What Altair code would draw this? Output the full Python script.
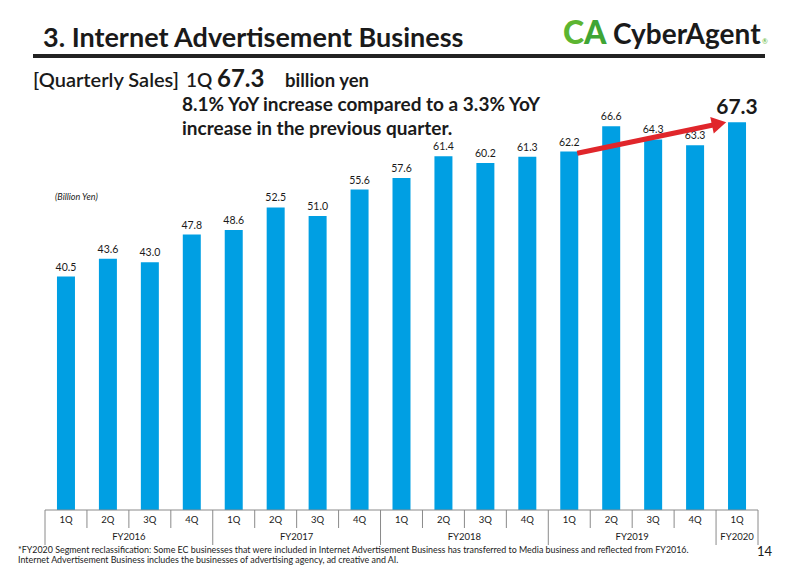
import altair as alt
import pandas as pd

# ---------------- data ----------------
fiscal_years = ["FY2016"] * 4 + ["FY2017"] * 4 + ["FY2018"] * 4 + ["FY2019"] * 4 + ["FY2020"]
quarters = ["1Q", "2Q", "3Q", "4Q"] * 4 + ["1Q"]
sales = [40.5, 43.6, 43.0, 47.8, 48.6, 52.5, 51.0, 55.6, 57.6, 61.4, 60.2, 61.3,
         62.2, 66.6, 64.3, 63.3, 67.3]

title_text = "3. Internet Advertisement Business"
footnotes = [
    "*FY2020 Segment reclassification: Some EC businesses that were included in Internet Advertisement Business has transferred to Media business and reflected from FY2016.",
    "Internet Advertisement Business includes the businesses of advertising agency, ad creative and AI.",
]

keys = [f"{f}|{q}" for f, q in zip(fiscal_years, quarters)]
df = pd.DataFrame({"key": keys, "fy": fiscal_years, "q": quarters, "sales": sales})
df["is_last"] = [i == len(keys) - 1 for i in range(len(keys))]

# ---------------- layout ----------------
L, T = 45, 106          # plot origin in page pixels
W, H = 713, 404
FONT = "Lato"
DARK = "#1a1a1a"
BLUE = "#009fe3"
RED = "#e0262b"

xscale = alt.Scale(domain=keys, paddingInner=0, paddingOuter=0)
yscale = alt.Scale(domain=[0, 70.1])
X = alt.X("key:N", scale=xscale, axis=None, sort=keys)
Y = alt.Y("sales:Q", scale=yscale, axis=None)

base = alt.Chart(df)

bars = base.mark_bar(size=18, color=BLUE).encode(x=X, y=Y)

vlabels = base.transform_filter("!datum.is_last").mark_text(
    dy=-6, fontSize=10.5, font=FONT, color=DARK, baseline="alphabetic"
).encode(x=X, y=Y, text=alt.Text("sales:Q", format=".1f"))

last_label = base.transform_filter("datum.is_last").mark_text(
    dy=-8, fontSize=21, fontWeight="bold", font=FONT, color=DARK, baseline="alphabetic"
).encode(x=X, y=Y, text=alt.Text("sales:Q", format=".1f"))

# arrow from 1Q FY2019 to 1Q FY2020
arrow_df = pd.DataFrame({"k1": ["FY2019|1Q"], "v1": [61.9], "k2": ["FY2019|4Q"], "v2": [66.8]})
arrow_line = alt.Chart(arrow_df).mark_rule(
    color=RED, strokeWidth=5, xOffset=8, x2Offset=18
).encode(
    x=alt.X("k1:N", scale=xscale, axis=None, sort=keys),
    x2="k2:N",
    y=alt.Y("v1:Q", scale=yscale, axis=None),
    y2="v2:Q",
)
head_df = pd.DataFrame({"k": ["FY2019|4Q"], "v": [67.03]})
arrow_head = alt.Chart(head_df).mark_point(
    shape="triangle-right", filled=True, opacity=1, color=RED, size=280, angle=348, xOffset=24
).encode(
    x=alt.X("k:N", scale=xscale, axis=None, sort=keys),
    y=alt.Y("v:Q", scale=yscale, axis=None),
)

# ---------------- category table below the bars ----------------
GREY = "#8a8a8a"
top_line = alt.Chart(pd.DataFrame({"a": [0]})).mark_rule(color=GREY, strokeWidth=1).encode(
    x=alt.value(0), x2=alt.value(W), y=alt.value(H)
)
q_sep = base.transform_filter("datum.q != '1Q'").mark_rule(color=GREY, strokeWidth=1).encode(
    x=alt.X("key:N", scale=xscale, axis=None, sort=keys, bandPosition=0),
    y=alt.value(H), y2=alt.value(H + 18),
)
fy_sep = base.transform_filter("datum.q == '1Q'").mark_rule(color=GREY, strokeWidth=1).encode(
    x=alt.X("key:N", scale=xscale, axis=None, sort=keys, bandPosition=0),
    y=alt.value(H), y2=alt.value(H + 35),
)
right_edge = base.transform_filter("datum.is_last").mark_rule(color=GREY, strokeWidth=1).encode(
    x=alt.X("key:N", scale=xscale, axis=None, sort=keys, bandPosition=1),
    y=alt.value(H), y2=alt.value(H + 35),
)
q_text = base.mark_text(fontSize=9.5, font=FONT, color=DARK, baseline="middle").encode(
    x=X, y=alt.value(H + 10), text="q:N"
)
fy_mid = base.transform_filter("datum.q == '2Q'").mark_text(
    fontSize=9.5, font=FONT, color=DARK, baseline="middle"
).encode(
    x=alt.X("key:N", scale=xscale, axis=None, sort=keys, bandPosition=1),
    y=alt.value(H + 27), text="fy:N",
)
fy_last = base.transform_filter("datum.is_last").mark_text(
    fontSize=9.5, font=FONT, color=DARK, baseline="middle"
).encode(x=X, y=alt.value(H + 27), text="fy:N")


# ---------------- page texts ----------------
def txt(s, x, y, size, weight="normal", color=DARK, style="normal", align="left"):
    return alt.Chart(pd.DataFrame({"t": [s]})).mark_text(
        fontSize=size, fontWeight=weight, font=FONT, color=color, fontStyle=style,
        align=align, baseline="alphabetic",
    ).encode(x=alt.value(x - L), y=alt.value(y - T), text="t:N")


texts = [
    txt(title_text, 43, 47, 27, "bold"),
    txt("C", 563, 44, 32, 900, "#5cb531"),
    txt("A", 584, 44, 32, 900, "#3fa535"),
    txt("CyberAgent", 613, 44, 28, "bold"),
    txt("®", 762, 44, 7, "normal", "#5cb531"),
    txt("[Quarterly Sales]", 33, 87, 20, 600),
    txt("1Q", 186, 87, 19, 600),
    txt("67.3", 217, 87, 24, "bold"),
    txt("billion yen", 285, 87, 18.5, "bold"),
    txt("8.1% YoY increase compared to a 3.3% YoY", 182, 111, 19, "bold"),
    txt("increase in the previous quarter.", 182, 135, 19, "bold"),
    txt("(Billion Yen)", 55, 200, 9, "normal", DARK, "italic"),
    txt(footnotes[0], 18, 553, 8.9),
    txt(footnotes[1], 18, 563, 8.9),
    txt("14", 757, 556, 13),
]

thick_line = alt.Chart(pd.DataFrame({"a": [0]})).mark_rule(color="#222222", strokeWidth=4).encode(
    x=alt.value(33 - L), x2=alt.value(765 - L), y=alt.value(56 - T)
)

chart = alt.layer(
    bars, vlabels, last_label, arrow_line, arrow_head,
    top_line, q_sep, fy_sep, right_edge, q_text, fy_mid, fy_last,
    thick_line, *texts,
).properties(
    width=W, height=H,
    autosize=alt.AutoSizeParams(type="none"),
    padding={"left": L, "top": T, "right": 800 - L - W, "bottom": 565 - T - H},
    background="white",
).configure_view(strokeWidth=0)

chart.save("out.html", embed_options={"renderer": "svg", "actions": False})
